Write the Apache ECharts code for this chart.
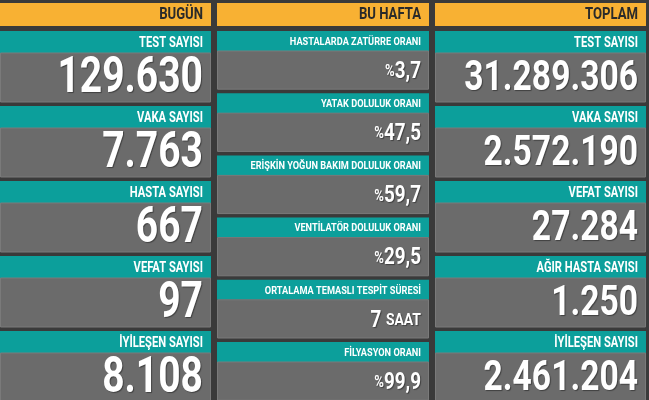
<!DOCTYPE html><html><head><meta charset="utf-8">
<script src="https://cdn.jsdelivr.net/npm/echarts@6/dist/echarts.min.js"></script>
<style>html,body{margin:0;padding:0;background:#3a3a3a}#c{width:649px;height:400px}</style></head><body><div id="c"></div>
<script>
const headers = ["BUGÜN","BU HAFTA","TOPLAM"];
const todayLabels = ["TEST SAYISI","VAKA SAYISI","HASTA SAYISI","VEFAT SAYISI","İYİLEŞEN SAYISI"];
const todayValues = ["129.630","7.763","667","97","8.108"];
const weekLabels = ["HASTALARDA ZATÜRRE ORANI","YATAK DOLULUK ORANI","ERİŞKİN YOĞUN BAKIM DOLULUK ORANI","VENTİLATÖR DOLULUK ORANI","ORTALAMA TEMASLI TESPİT SÜRESİ","FİLYASYON ORANI"];
const weekValues = ["%3,7","%47,5","%59,7","%29,5","7 SAAT","%99,9"];
const totalLabels = ["TEST SAYISI","VAKA SAYISI","VEFAT SAYISI","AĞIR HASTA SAYISI","İYİLEŞEN SAYISI"];
const totalValues = ["31.289.306","2.572.190","27.284","1.250","2.461.204"];

const F = 'Roboto,sans-serif';
const cols = [
  {x:0,w:211,labels:todayLabels,values:todayValues,rowH:75,teal:22,fs:50,sx:0.78,lfs:14},
  {x:217,w:212,labels:weekLabels,values:weekValues,rowH:62.2,teal:20,fs:23,sx:0.82,lfs:11.5},
  {x:435,w:211,labels:totalLabels,values:totalValues,rowH:75,teal:22,fs:42,sx:0.8,lfs:14}
];
const els = [];
cols.forEach((c,ci)=>{
  els.push({type:'rect',shape:{x:c.x,y:3,width:c.w,height:23},style:{fill:'#f8b133'}});
  els.push({type:'text',x:c.x+c.w-8,y:15,scaleX:0.82,style:{text:headers[ci],fill:'#2a2a2a',font:'bold 16px '+F,align:'right',verticalAlign:'middle'}});
  c.labels.forEach((l,i)=>{
    const y=31+i*c.rowH;
    const gh=c.rowH-c.teal-4;
    els.push({type:'rect',shape:{x:c.x,y:y,width:c.w,height:c.teal},style:{fill:'#0c9f9b'}});
    els.push({type:'text',x:c.x+c.w-8,y:y+c.teal/2+1,scaleX:0.8,style:{text:l,fill:'#fff',font:'bold '+c.lfs+'px '+F,align:'right',verticalAlign:'middle'}});
    els.push({type:'rect',shape:{x:c.x+0.5,y:y+c.teal,width:c.w-1,height:gh},style:{fill:'#6b6b6b',stroke:'#7a7a7a',lineWidth:1}});
    let v=c.values[i], rich=null, text=v;
    if(ci===1){
      if(v[0]==='%'){text='{p|%}{v|'+v.slice(1)+'}';}
      else {const p=v.split(' ');text='{v|'+p[0]+'} {s|'+p[1]+'}';}
      rich={p:{font:'bold 16px '+F,fill:'#fff'},v:{font:'bold '+c.fs+'px '+F,fill:'#fff'},s:{font:'bold 17px '+F,fill:'#fff'}};
    }
    els.push({type:'text',x:c.x+c.w-8,y:y+c.teal+gh/2+2,scaleX:c.sx,style:{text:text,rich:rich||undefined,fill:'#fff',font:'bold '+c.fs+'px '+F,align:'right',verticalAlign:'middle',textShadowColor:'rgba(0,0,0,0.4)',textShadowOffsetX:1,textShadowOffsetY:1,textShadowBlur:1}});
  });
});
const chart=echarts.init(document.getElementById('c'));
chart.setOption({backgroundColor:'#3a3a3a',graphic:{elements:els}});
</script></body></html>
